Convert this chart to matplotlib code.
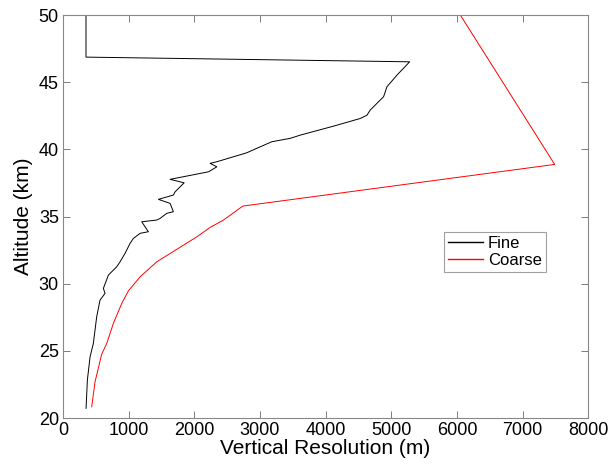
import numpy as np
import matplotlib.pyplot as plt

plt.rcParams['font.family'] = ['Liberation Sans', 'DejaVu Sans']

# Fine resolution profile (m) vs altitude (km)
fine_res = [351, 371, 412, 462, 513, 564, 640, 615, 691, 818, 869, 945, 1021,
            1072, 1174, 1300, 1199, 1428, 1479, 1580, 1681, 1631, 1453, 1681,
            1707, 1845, 1631, 2215, 2343, 2241, 2343, 2596, 2800, 3003, 3181,
            3460, 3613, 4120, 4527, 4630, 4680, 4883, 4934, 5087, 5280, 350, 350]
fine_alt = [20.72, 22.82, 24.56, 25.55, 27.54, 28.78, 29.28, 29.65, 30.64,
            31.26, 31.63, 32.26, 33.0, 33.37, 33.75, 33.87, 34.61, 34.74, 34.86,
            35.24, 35.36, 35.98, 36.28, 36.6, 36.84, 37.51, 37.77, 38.33, 38.7,
            38.96, 39.08, 39.45, 39.75, 40.19, 40.57, 40.82, 41.06, 41.73, 42.3,
            42.55, 42.93, 43.92, 44.66, 45.53, 46.52, 46.87, 50.0]

# Coarse resolution profile
coarse_res = [437, 488, 590, 666, 767, 894, 996, 1174, 1428, 2038, 2241, 2444,
              2739, 7489, 6052]
coarse_alt = [20.84, 22.7, 24.76, 25.55, 27.04, 28.53, 29.47, 30.51, 31.63,
              33.49, 34.19, 34.74, 35.78, 38.88, 50.0]

fig = plt.figure(figsize=(6.1, 4.68), dpi=100)
ax = fig.add_axes([0.1033, 0.1068, 0.861, 0.861])

ax.plot(fine_res, fine_alt, color='black', lw=0.7, label='Fine')
ax.plot(coarse_res, coarse_alt, color='red', lw=0.7, label='Coarse')

ax.set_xlim(0, 8000)
ax.set_ylim(20, 50)
ax.set_xticks(np.arange(0, 8001, 1000))
ax.set_yticks(np.arange(20, 51, 5))
ax.tick_params(direction='in', top=True, right=True, labelsize=13,
               length=5, width=0.6, color='#666666', pad=3)
for s in ax.spines.values():
    s.set_color('#888888')
    s.set_linewidth(0.8)

ax.set_xlabel('Vertical Resolution (m)', fontsize=15, labelpad=0)
ax.set_ylabel('Altitude (km)', fontsize=15, labelpad=4)

leg = ax.legend(loc='upper left', bbox_to_anchor=(0.726, 0.462), fontsize=12,
                frameon=True, fancybox=False, borderpad=0.25, handlelength=2.1,
                labelspacing=0.1, handletextpad=0.25, borderaxespad=0)
leg.get_frame().set_edgecolor('#888888')
leg.get_frame().set_linewidth(0.8)
for h in leg.get_lines():
    h.set_linewidth(1.0)

fig.savefig('out.png', dpi=100)
